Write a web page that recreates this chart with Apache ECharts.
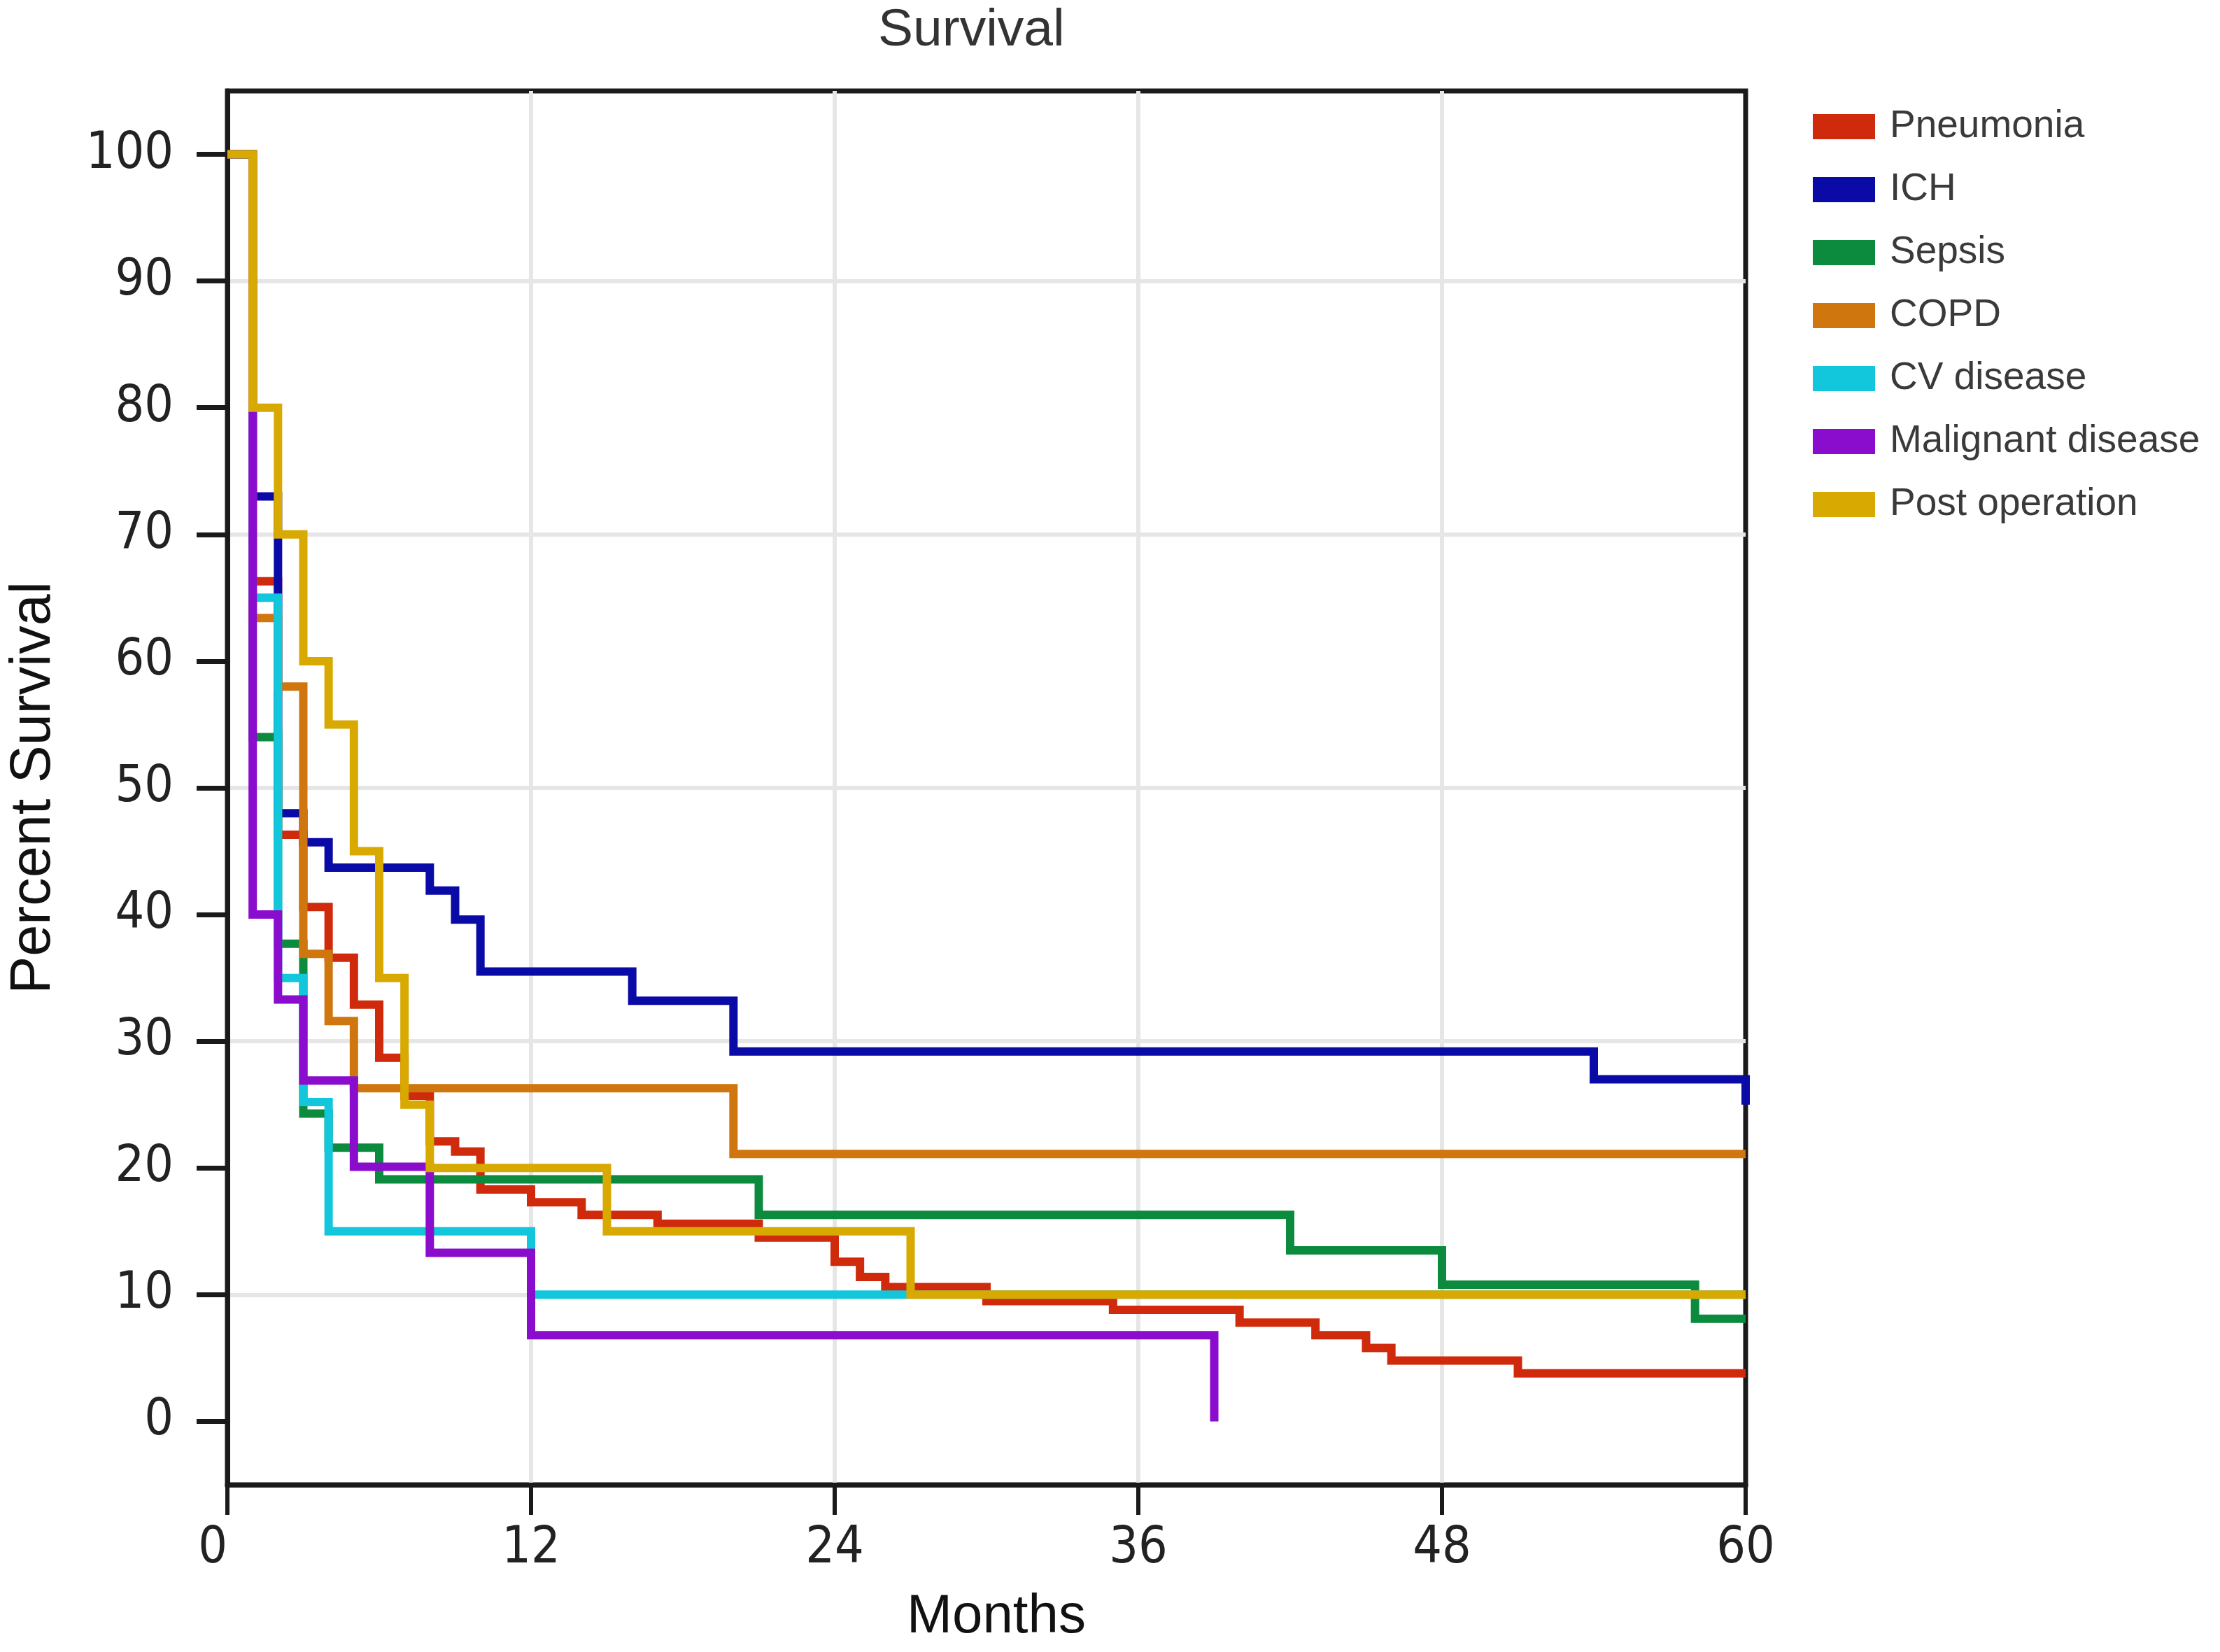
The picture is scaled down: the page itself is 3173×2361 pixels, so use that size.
<!DOCTYPE html>
<html>
<head>
<meta charset="utf-8">
<script src="https://cdn.jsdelivr.net/npm/echarts@6/dist/echarts.min.js"></script>
<style>
html,body{margin:0;padding:0;background:#fff;}
#chart{width:3173px;height:2361px;}
</style>
</head>
<body>
<div id="chart"></div>
<script>
// ---- data (months, percent survival after each step) ----
const seriesNames = ['Pneumonia','ICH','Sepsis','COPD','CV disease','Malignant disease','Post operation'];
const seriesColors = ['#cf2a0c','#0a0aa6','#0c8a3e','#d0760e','#12c6dc','#8a0ccc','#d8a900'];

const pneumoniaMonths   = [0,1,2,3,4,5,6,7,8,9,10,12,14,17,21,24,25,26,30,35,40,43,45,46,51,60];
const pneumoniaSurvival = [100,66.3,46.3,40.6,36.6,32.9,28.7,25.7,22.1,21.3,18.3,17.3,16.3,15.6,14.5,12.6,11.4,10.6,9.5,8.8,7.8,6.8,5.8,4.8,3.8,3.8];

const ichMonths   = [0,1,2,3,4,8,9,10,16,20,54,60];
const ichSurvival = [100,73,48,45.7,43.7,41.9,39.6,35.5,33.2,29.2,27.0,25];

const sepsisMonths   = [0,1,2,3,4,6,21,42,48,58,60];
const sepsisSurvival = [100,54,37.7,24.3,21.6,19.1,16.3,13.5,10.8,8.1,8.1];

const copdMonths   = [0,1,2,3,4,5,20,60];
const copdSurvival = [100,63.4,58,36.9,31.6,26.3,21.1,21.1];

const cvMonths   = [0,1,2,3,4,12,60];
const cvSurvival = [100,65,35,25.2,15,10,10];

const malignantMonths   = [0,1,2,3,5,8,12,39];
const malignantSurvival = [100,40,33.3,26.9,20.1,13.3,6.8,0];

const postOpMonths   = [0,1,2,3,4,5,6,7,8,15,27,60];
const postOpSurvival = [100,80,70,60,55,45,35,25,20,15,10,10];

const xTickValues = [0,12,24,36,48,60];
const yTickValues = [0,10,20,30,40,50,60,70,80,90,100];

// ---- build ----
const allMonths = [pneumoniaMonths, ichMonths, sepsisMonths, copdMonths, cvMonths, malignantMonths, postOpMonths];
const allSurvival = [pneumoniaSurvival, ichSurvival, sepsisSurvival, copdSurvival, cvSurvival, malignantSurvival, postOpSurvival];

const tickFont = "'DejaVu Sans Condensed','Liberation Sans Narrow','DejaVu Sans',sans-serif";
const textFont = "'Liberation Sans','Arial',sans-serif";
const frameColor = '#1a1a1a';
const gridColor = '#e6e6e6';

const series = seriesNames.map((name, k) => ({
  name: name,
  type: 'line',
  step: 'end',
  symbol: 'none',
  showSymbol: false,
  z: 3 + k,
  data: allMonths[k].map((m, i) => [m, allSurvival[k][i]]),
  itemStyle: { color: seriesColors[k] },
  lineStyle: { color: seriesColors[k], width: 12, cap: 'butt', join: 'miter' },
  emphasis: { disabled: true }
}));

const chart = echarts.init(document.getElementById('chart'), null, { renderer: 'canvas' });
chart.setOption({
  animation: false,
  backgroundColor: '#ffffff',
  title: {
    text: 'Survival',
    left: 1250,
    top: 2,
    textStyle: { fontFamily: textFont, fontSize: 75, fontWeight: 'normal', color: '#333' }
  },
  legend: {
    orient: 'vertical',
    left: 2586,
    top: 146,
    itemWidth: 89,
    itemHeight: 36,
    itemGap: 30,
    icon: 'rect',
    selectedMode: false,
    textStyle: { fontFamily: textFont, fontSize: 55, color: '#3a3a3a', lineHeight: 60, padding: [0,0,0,16] },
    data: seriesNames
  },
  grid: {
    left: 324, right: 678, top: 130, bottom: 239,
    show: true, borderColor: frameColor, borderWidth: 7, backgroundColor: 'transparent'
  },
  xAxis: {
    type: 'value',
    min: 0, max: 60, interval: 12,
    name: 'Months',
    nameLocation: 'middle',
    nameGap: 150,
    nameTextStyle: { fontFamily: textFont, fontSize: 78, color: '#111', padding: [0,0,0,28] },
    axisLine: { show: true, onZero: false, lineStyle: { color: frameColor, width: 7 } },
    axisTick: { show: true, inside: false, length: 43, lineStyle: { color: frameColor, width: 6 } },
    axisLabel: {
      margin: 56, fontFamily: tickFont, fontSize: 73, color: '#222',
      alignMinLabel: 'right', alignMaxLabel: 'center',
      formatter: v => String(v)
    },
    splitLine: { show: true, lineStyle: { color: ['transparent', gridColor, gridColor, gridColor, gridColor, 'transparent'], width: 6 } }
  },
  yAxis: {
    type: 'value',
    min: -5, max: 105, interval: 5,
    name: 'Percent Survival',
    nameLocation: 'middle',
    nameGap: 236,
    nameTextStyle: { fontFamily: textFont, fontSize: 81, color: '#111' },
    axisLine: { show: true, onZero: false, lineStyle: { color: frameColor, width: 7 } },
    axisTick: { show: true, inside: false, length: 44, customValues: yTickValues, lineStyle: { color: frameColor, width: 7 } },
    axisLabel: {
      margin: 77, fontFamily: tickFont, fontSize: 73, color: '#222',
      customValues: yTickValues,
      formatter: v => (v >= 0 && v <= 100 && v % 10 === 0) ? String(v) : ''
    },
    splitLine: { show: true, lineStyle: { color: ['transparent', gridColor], width: 6 } }
  },
  series: series
});
</script>
</body>
</html>
